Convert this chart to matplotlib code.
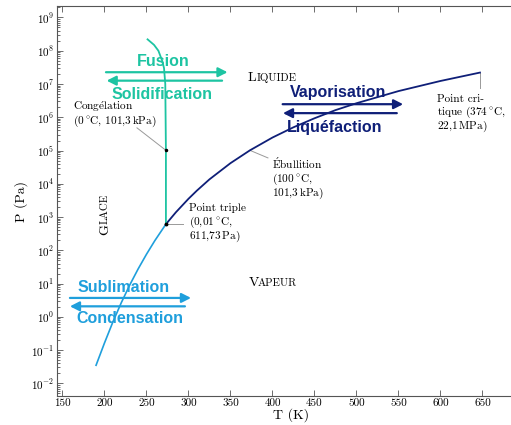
import matplotlib
matplotlib.use("Agg")
import matplotlib.pyplot as plt
from matplotlib.ticker import LogLocator, NullFormatter, FixedLocator, FixedFormatter

plt.rcParams['font.family'] = ['cmr10', 'DejaVu Serif']
plt.rcParams['mathtext.fontset'] = 'cm'
plt.rcParams['axes.unicode_minus'] = False

# ---- data ----
sub_T = [190, 200, 210, 220, 230, 240, 250, 260, 273.16]
sub_P = [0.035, 0.163, 0.70, 2.65, 8.97, 27.3, 76.0, 196.0, 611.73]

vap_T = [273.16, 285, 300, 310, 325, 350, 373.15, 400, 425, 450, 475, 500, 550, 600, 647]
vap_P = [611.73, 1390, 3537, 6230, 13600, 41700, 101325, 245800, 500000, 932000,
         1.64e6, 2.64e6, 6.12e6, 12.34e6, 22.06e6]

fus_T = [273.16, 273.15, 272.4, 270.9, 268.7, 264.2, 259.0, 251.3]
fus_P = [611.73, 101325, 1e7, 3e7, 5e7, 1e8, 1.5e8, 2.2e8]

triple = (273.16, 611.73)
congel = (273.15, 101325)
ebul = (373.15, 101325)
crit = (647, 22.06e6)

x_ticks = [150, 200, 250, 300, 350, 400, 450, 500, 550, 600, 650]
y_exps = [-2, -1, 0, 1, 2, 3, 4, 5, 6, 7, 8, 9]
y_ticklabels = [r'$10^{%d}$' % e for e in y_exps]

c_fus = '#1dc4a2'
c_sub = '#1f9fdc'
c_vap = '#0f1f78'

fig = plt.figure(figsize=(5.11, 4.25), dpi=100)
ax = fig.add_axes([57/511, 29/425, (524.5-57)/511, 390/425])
ax.set_yscale('log')
ax.set_xlim(143.5, 700)
ax.set_ylim(10**-2.38, 10**9.345)

ax.plot(sub_T, sub_P, color=c_sub, lw=1.2, zorder=3)
ax.plot(vap_T, vap_P, color=c_vap, lw=1.3, zorder=3)
ax.plot(fus_T, fus_P, color=c_fus, lw=1.3, zorder=3)
ax.plot(*triple, 'o', color='black', ms=1.8, zorder=4)
ax.plot(*congel, 'o', color='black', ms=1.5, zorder=4)

ax.xaxis.set_major_locator(FixedLocator(x_ticks))
ax.yaxis.set_major_locator(FixedLocator([10.0**e for e in y_exps]))
ax.yaxis.set_major_formatter(FixedFormatter(y_ticklabels))
ax.yaxis.set_minor_locator(LogLocator(base=10, subs=range(2, 10), numticks=30))
ax.yaxis.set_minor_formatter(NullFormatter())
ax.tick_params(which='both', direction='in', top=True, right=True, width=0.6,
               colors='#555', labelcolor='black', labelsize=8, pad=2)
ax.tick_params(which='major', length=4)
ax.tick_params(which='minor', length=2.5)
ax.tick_params(axis='x', which='minor', bottom=False, top=False)
for s in ax.spines.values():
    s.set_linewidth(0.8)
    s.set_color('#555')

ax.set_xlabel('T (K)', fontsize=10, labelpad=0)
ax.set_ylabel('P (Pa)', fontsize=10, labelpad=2)

# process arrows
def arrow(tail, tip, c):
    ax.annotate('', xy=tip, xytext=tail,
                arrowprops=dict(arrowstyle='-|>,head_length=0.55,head_width=0.28',
                                color=c, lw=1.6, shrinkA=0, shrinkB=0,
                                mutation_scale=10), zorder=5)

arrow((201.8, 2.26e7), (346.5, 2.26e7), c_fus)
arrow((340.0, 1.26e7), (202.6, 1.26e7), c_fus)
arrow((412.1, 2.47e6), (555.5, 2.47e6), c_vap)
arrow((548.0, 1.33e6), (412.5, 1.33e6), c_vap)
arrow((158.9, 3.7), (303.0, 3.7), c_sub)
arrow((295.8, 2.07), (158.9, 2.07), c_sub)

pfont = dict(fontsize=11.5, fontweight='bold', family='Liberation Sans',
             ha='center', va='center', zorder=6)
ax.text(269.6, 4.9e7, 'Fusion', color=c_fus, **pfont)
ax.text(269.0, 5.0e6, 'Solidification', color=c_fus, **pfont)
ax.text(478.0, 5.4e6, 'Vaporisation', color=c_vap, **pfont)
ax.text(474.4, 4.8e5, 'Liquéfaction', color=c_vap, **pfont)
ax.text(223.2, 7.5, 'Sublimation', color=c_sub, **pfont)
ax.text(230.4, 0.88, 'Condensation', color=c_sub, **pfont)

# small caps phase names
def smallcaps(x, y, first, rest, off, rotation=0):
    ax.text(x, y, first, fontsize=10, ha='left', va='baseline',
            rotation=rotation, rotation_mode='anchor')
    offset = (off, 0) if rotation == 0 else (0, off)
    ax.annotate(rest, xy=(x, y), xytext=offset, textcoords='offset points',
                fontsize=7.8, ha='left', va='baseline', rotation=rotation,
                rotation_mode='anchor')

smallcaps(370.8, 10**7.093, 'L', 'IQUIDE', 6.3)
smallcaps(372.0, 10**0.916, 'V', 'APEUR', 6.6)
smallcaps(204.3, 10**2.468, 'G', 'LACE', 7.8, rotation=90)

# point annotations (one text per line, first-line baseline at the anchor)
def lines(x, y, rows):
    for i, r in enumerate(rows):
        ax.annotate(r, xy=(x, y), xytext=(0, -9.7 * i), textcoords='offset points',
                    fontsize=8.1, ha='left', va='baseline')

deg = r'$\,^{\circ}$C'
leader = dict(color='#999999', lw=0.7)
lines(162.5, 10**6.222, [r'Cong$\mathrm{\acute{e}}$lation', '(0' + deg + r', 101,3$\,$kPa)'])
ax.plot([238.7, congel[0]], [4.8e5, congel[1]], **leader)
lines(399.4, 10**4.45, [r'$\mathrm{\acute{E}}$bullition', '(100' + deg + ',', r'101,3$\,$kPa)'])
ax.plot([ebul[0], 394.6], [ebul[1], 6.0e4], **leader)
lines(300.6, 10**3.17, ['Point triple', '(0,01' + deg + ',', r'611,73$\,$Pa)'])
ax.plot([276.0, 293.0], [triple[1], triple[1]], **leader)
lines(595.8, 10**6.47, ['Point cri-', 'tique (374' + deg + ',', r'22,1$\,$MPa)'])
ax.plot([crit[0], crit[0]], [crit[1], 7.6e6], **leader)

fig.savefig('out.png', dpi=100)
